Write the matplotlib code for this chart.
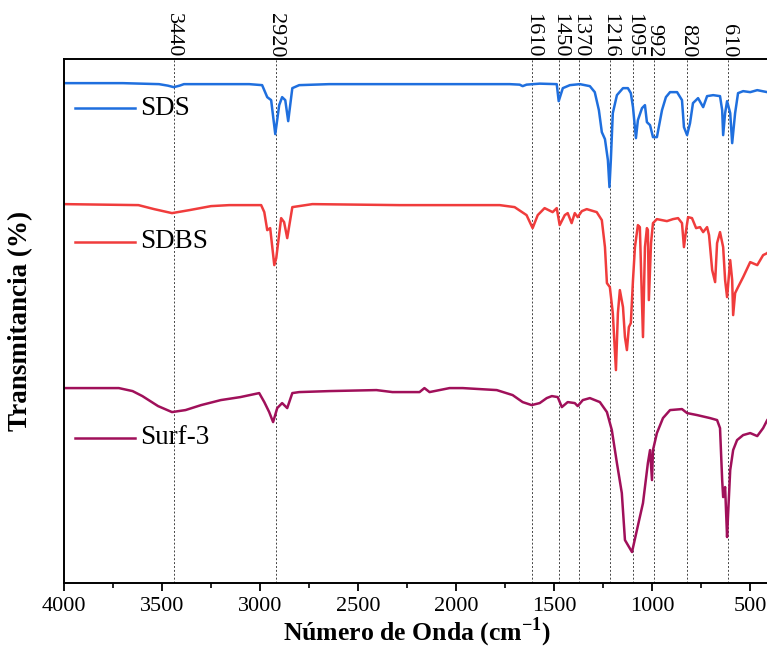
import matplotlib
matplotlib.use('Agg')
import matplotlib.pyplot as plt
from matplotlib.ticker import MultipleLocator, NullLocator

plt.rcParams['font.family'] = 'Liberation Serif'
plt.rcParams['mathtext.fontset'] = 'custom'
plt.rcParams['mathtext.rm'] = 'Liberation Serif'
plt.rcParams['mathtext.bf'] = 'Liberation Serif:bold'

# espectros FTIR (numero de onda, transmitancia en unidades arbitrarias)
sds_wn = [4000, 3700, 3515, 3470, 3440, 3410, 3388, 3055, 2989, 2963, 2943, 2922, 2902, 2887, 2871, 2856,
          2835, 2800, 2647, 1726, 1675, 1660, 1640, 1573, 1486, 1476, 1455, 1419, 1368, 1317,
          1292, 1271, 1256, 1240, 1225, 1217, 1210, 1200, 1179, 1148, 1123, 1108, 1097, 1082,
          1072, 1051, 1036, 1026, 1010, 995, 975, 949, 929, 908, 872, 847, 837, 821, 806, 791,
          765, 739, 719, 688, 653, 642, 637, 627, 617, 601, 591, 576, 561, 535, 499, 463, 412, 400]
sds_t = [500, 500, 499, 497.5, 496, 497.5, 499, 499, 498, 486, 483, 449, 478, 486, 483, 462,
         495, 498, 499, 499, 498.5, 497, 498.5, 499.5, 499, 482, 495, 498, 499, 497,
         491, 473, 451, 444, 423, 396, 423, 470, 488, 495, 495, 490, 476, 445,
         463, 475, 478, 461, 458, 446, 446, 473, 486, 491, 491, 483, 456, 448, 460, 480,
         485, 476, 487, 488, 487, 473, 448, 470, 482, 470, 440, 470, 490, 492, 491, 493, 491, 492]

sdbs_wn = [4000, 3620, 3540, 3449, 3360, 3250, 3157, 2994, 2978, 2963, 2948, 2927, 2917, 2892, 2877, 2861,
           2835, 2733, 2288, 1777, 1701, 1640, 1609, 1583, 1548, 1507, 1486, 1471, 1445, 1430,
           1410, 1394, 1379, 1358, 1333, 1282, 1256, 1240, 1230, 1215, 1200, 1184, 1174, 1164,
           1148, 1138, 1128, 1118, 1108, 1097, 1087, 1072, 1062, 1046, 1036, 1026, 1021, 1016,
           1005, 995, 975, 924, 893, 867, 847, 837, 826, 816, 796, 775, 755, 739, 719, 709,
           693, 678, 668, 653, 637, 627, 617, 601, 591, 586, 576, 561, 535, 499, 463, 433, 412, 400]
sdbs_t = [379, 378, 374, 370, 373, 377, 378, 378, 371, 353, 355, 318, 325, 365, 361, 345,
          376, 379, 378, 378, 376, 368, 355, 368, 375, 371, 375, 358, 368, 370,
          360, 370, 366, 372, 374, 371, 363, 336, 300, 296, 270, 213, 270, 293,
          276, 246, 233, 256, 260, 303, 336, 358, 356, 246, 336, 355, 353, 283,
          340, 360, 364, 362, 364, 365, 360, 336, 353, 366, 365, 355, 356, 351, 356, 348,
          313, 301, 340, 351, 336, 303, 286, 323, 303, 268, 290, 296, 306, 321, 318, 328, 330, 333]

surf3_wn = [4000, 3720, 3650, 3600, 3520, 3449, 3380, 3300, 3200, 3100, 3004, 2978, 2953, 2933, 2912, 2887,
            2861, 2835, 2800, 2646, 2406, 2324, 2186, 2161, 2135, 2033, 1966, 1792, 1711, 1660,
            1614, 1573, 1537, 1511, 1481, 1460, 1430, 1394, 1379, 1353, 1317, 1266, 1230, 1205,
            1179, 1154, 1138, 1102, 1077, 1046, 1021, 1010, 1000, 995, 975, 944, 908, 847, 821,
            770, 704, 668, 653, 642, 637, 627, 617, 612, 601, 586, 566, 535, 499, 463, 433, 412, 400]
surf3_t = [195, 195, 192, 187, 177, 171, 173, 178, 183, 186, 190, 181, 171, 161, 175, 180,
           175, 190, 191, 192, 193, 191, 191, 195, 191, 195, 195, 193, 188, 181,
           178, 180, 185, 187, 186, 176, 181, 180, 177, 183, 185, 181, 171, 153,
           120, 90, 43, 31, 53, 80, 120, 133, 103, 133, 150, 165, 173, 174, 170,
           168, 165, 163, 155, 103, 86, 96, 46, 68, 113, 133, 143, 148, 150, 147, 155, 163, 166]

names = ['SDS', 'SDBS', 'Surf-3']
colors = ['#1F6FDE', '#F03C3C', '#A0105A']

# bandas marcadas (posicion de la linea y texto)
peak_pos = [3440, 2920, 1610, 1472, 1370, 1216, 1095, 992, 820, 610]
peak_txt = ['3440', '2920', '1610', '1450', '1370', '1216', '1095', '992', '820', '610']

fig = plt.figure(figsize=(7.67, 6.5), dpi=100)
ax = fig.add_axes([0.0834, 0.103, 0.92, 0.806])

series = [(sds_wn, sds_t), (sdbs_wn, sdbs_t), (surf3_wn, surf3_t)]
for (wn, t), c in zip(series, colors):
    ax.plot(wn, t, color=c, lw=1.8)

ax.set_xlim(4000, 400)
ax.set_ylim(0, 524)

for p, s in zip(peak_pos, peak_txt):
    ax.axvline(p, color='#444444', lw=0.7, ls=(0, (2, 2)), zorder=0)
    ax.text(p, 1.004, s, transform=ax.get_xaxis_transform(), rotation=270,
            ha='center', va='bottom', fontsize=16)

# leyendas junto a cada curva
leg_y = [0.906, 0.651, 0.277]
for n, c, y in zip(names, colors, leg_y):
    ax.plot([0.016, 0.101], [y, y], color=c, lw=1.8, transform=ax.transAxes)
    ax.text(0.108, y, n, transform=ax.transAxes, va='center', ha='left', fontsize=19.5)

ax.xaxis.set_major_locator(MultipleLocator(500))
ax.xaxis.set_minor_locator(MultipleLocator(250))
ax.yaxis.set_major_locator(NullLocator())
ax.tick_params(axis='x', which='major', direction='out', length=6, width=1.3, labelsize=16, pad=4)
ax.tick_params(axis='x', which='minor', direction='out', length=3.5, width=1.2)
for sp in ax.spines.values():
    sp.set_linewidth(1.4)

ax.set_xlabel('Número de Onda (cm$^{\\mathbf{-1}}$)', fontsize=18.5, fontweight='bold', labelpad=0)
ax.set_ylabel('Transmitancia (%)', fontsize=19.5, fontweight='bold')
ax.yaxis.set_label_coords(-0.044, 0.5)

fig.savefig('out.png', dpi=100)
